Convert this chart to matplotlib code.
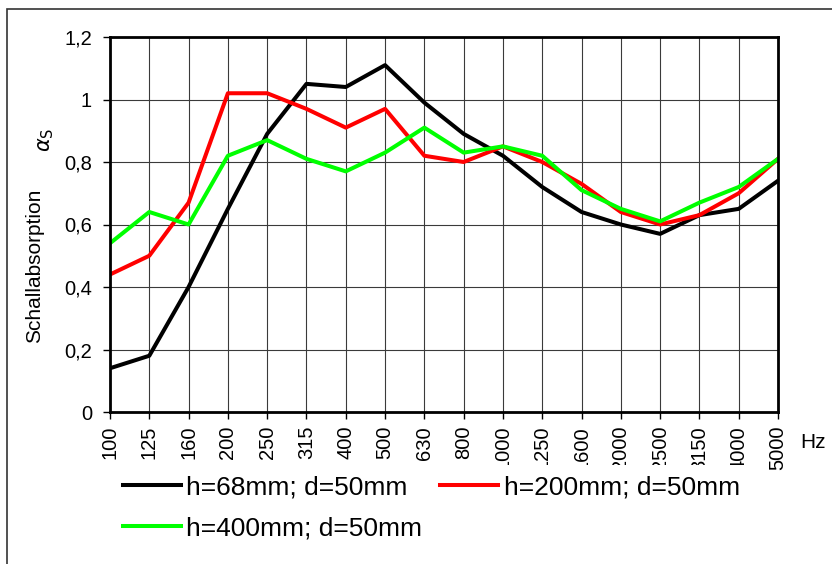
import matplotlib
matplotlib.use("Agg")
import matplotlib.pyplot as plt
from matplotlib.patches import Rectangle
from matplotlib.transforms import Bbox, TransformedBbox

plt.rcParams['font.family'] = ['Liberation Sans', 'DejaVu Sans']

# Terzband-Frequenzen (Hz)
freqs = ["100", "125", "160", "200", "250", "315", "400", "500", "630", "800",
         "1000", "1250", "1600", "2000", "2500", "3150", "4000", "5000"]

h68 = [0.14, 0.18, 0.40, 0.65, 0.89, 1.05, 1.04, 1.11, 0.99, 0.89,
       0.82, 0.72, 0.64, 0.60, 0.57, 0.63, 0.65, 0.74]
h200 = [0.44, 0.50, 0.67, 1.02, 1.02, 0.97, 0.91, 0.97, 0.82, 0.80,
        0.85, 0.80, 0.73, 0.64, 0.60, 0.63, 0.70, 0.81]
h400 = [0.54, 0.64, 0.60, 0.82, 0.87, 0.81, 0.77, 0.83, 0.91, 0.83,
        0.85, 0.82, 0.71, 0.65, 0.61, 0.67, 0.72, 0.81]

labels = ["h=68mm; d=50mm", "h=200mm; d=50mm", "h=400mm; d=50mm"]
y_ticks = [0, 0.2, 0.4, 0.6, 0.8, 1.0, 1.2]
y_tick_labels = ["0", "0,2", "0,4", "0,6", "0,8", "1", "1,2"]

W, H = 832, 564
fig = plt.figure(figsize=(W / 100, H / 100), dpi=100)

# aeusserer Rahmen (ragt ueber rechten und unteren Rand hinaus)
fig.patches.append(Rectangle((7 / W, -0.1), 1.2, (H - 9) / H + 0.1,
                             transform=fig.transFigure, fill=False,
                             edgecolor="#333333", linewidth=1.2))

ax = fig.add_axes([110 / W, (H - 412) / H, 668 / W, 375 / H])
x = list(range(len(freqs)))

l1, = ax.plot(x, h68, color="black", linewidth=2.9, label=labels[0])
l2, = ax.plot(x, h200, color="#ff0000", linewidth=2.9, label=labels[1])
l3, = ax.plot(x, h400, color="#00ff00", linewidth=2.9, label=labels[2])

ax.set_xlim(0, len(freqs) - 1)
ax.set_ylim(0, 1.2)
ax.set_xticks(x)
ax.set_xticklabels(freqs, rotation=90, fontsize=14.5)
ax.set_yticks(y_ticks)
ax.set_yticklabels(y_tick_labels, fontsize=14.5)
ax.tick_params(axis="both", direction="out", length=5, width=1, pad=8, color="black")
ax.tick_params(axis="x", pad=5)
ax.grid(True, color="#3a3a3a", linewidth=0.8)
ax.set_axisbelow(True)
for s in ax.spines.values():
    s.set_linewidth(2)
    s.set_color("black")

# Beschriftungen unten abgeschnitten wie im Original
clip = TransformedBbox(Bbox.from_extents(0, (H - 465) / H, 1, 1), fig.transFigure)
for t in ax.get_xticklabels()[:-1]:
    t.set_clip_box(clip)
    t.set_clip_on(True)

fig.text(35 / W, 1 - 266 / H, "Schallabsorption", rotation=90, fontsize=15,
         ha="center", va="center")
fig.text(46 / W, 1 - 140 / H, r"$\alpha_\mathrm{S}$", rotation=90, fontsize=15,
         ha="center", va="center")
fig.text(813 / W, 1 - 442 / H, "Hz", fontsize=15, ha="center", va="center")

ax.legend([l1, l3, l2], [labels[0], labels[2], labels[1]], ncol=2,
          loc="upper left", bbox_to_anchor=(123 / W, 1 - 475 / H),
          bbox_transform=fig.transFigure, frameon=False, fontsize=19,
          handlelength=2.2, handletextpad=0.2, columnspacing=0.68,
          labelspacing=0.65, borderaxespad=0, borderpad=0)

fig.savefig("out.png", dpi=100)
